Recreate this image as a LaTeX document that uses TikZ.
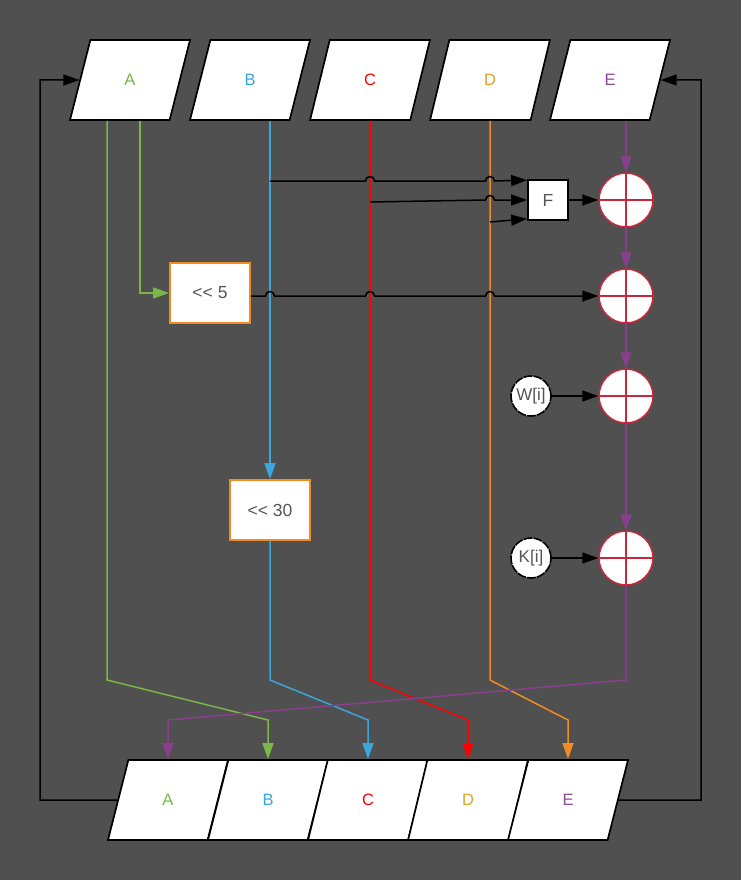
\documentclass[tikz,border=0pt]{standalone}
\usepackage{fontspec}
\setmainfont{Liberation Sans}
\usetikzlibrary{shapes.geometric,arrows.meta}
\definecolor{bg}{HTML}{505050}
\definecolor{regA}{HTML}{7AB648}
\definecolor{regB}{HTML}{3BA6DC}
\definecolor{regC}{HTML}{FF0000}
\definecolor{regD}{HTML}{EF8C22}
\definecolor{regE}{HTML}{883F8C}
\definecolor{textD}{HTML}{DBA526}
\definecolor{textE}{HTML}{8C4A94}
\definecolor{addred}{HTML}{C8283C}
\definecolor{boxtext}{HTML}{555555}

\begin{document}
\begin{tikzpicture}[x=1pt, y=-1pt, line width=1.5pt, >={Triangle[length=16pt,width=11pt]}]
        \fill[bg] (0,0) rectangle (741,880);
        \useasboundingbox (0,0) rectangle (741,880);

        \begin{scope}[every node/.style={trapezium, trapezium left angle=76, trapezium right angle=104,
                      trapezium stretches=true, minimum width=120pt, minimum height=80pt, inner sep=0pt,
                      draw=black, line width=1.7pt, fill=white, font=\fontsize{16.5}{18}\selectfont}]
            \node (tA) [text=regA] at (130, 80) {A};
            \node (tB) [text=regB] at (250, 80) {B};
            \node (tC) [text=regC] at (370, 80) {C};
            \node (tD) [text=textD] at (490, 80) {D};
            \node (tE) [text=textE] at (610, 80) {E};
            \node (bA) [text=regA] at (168, 800) {A};
            \node (bB) [text=regB] at (268, 800) {B};
            \node (bC) [text=regC] at (368, 800) {C};
            \node (bD) [text=textD] at (468, 800) {D};
            \node (bE) [text=textE] at (568, 800) {E};
        \end{scope}

        \begin{scope}[every node/.style={draw=regD, line width=1.7pt, fill=white, minimum width=80pt,
                      minimum height=60pt, text=boxtext, font=\fontsize{17.5}{20}\selectfont}]
            \node (shl5) at (210, 293) {<{}< 5};
            \node (shl30) at (270, 510) {<{}< 30};
        \end{scope}

        \node (F) [draw=black, line width=1.7pt, fill=white, minimum size=40pt, text=boxtext,
                   font=\fontsize{17.5}{20}\selectfont] at (548, 200) {F};

        \begin{scope}[every node/.style={circle, draw=addred, fill=white, line width=1.5pt, minimum size=54pt,
                      inner sep=0pt, path picture={
                          \draw[addred, line width=1.5pt] (path picture bounding box.north) -- (path picture bounding box.south)
                                (path picture bounding box.west) -- (path picture bounding box.east);}}]
            \node (add1) at (626, 200) {};
            \node (add2) at (626, 296) {};
            \node (add3) at (626, 396) {};
            \node (add4) at (626, 558) {};
        \end{scope}

        \begin{scope}[every node/.style={circle, draw=black, dash pattern=on 9pt off 1pt, line width=1.6pt,
                      fill=white, minimum size=40pt, inner sep=0pt, text=boxtext, font=\fontsize{17}{20}\selectfont}]
            \node (W) at (531, 396) {W[i]};
            \node (K) at (531, 558) {K[i]};
        \end{scope}

        % register lines
        \draw[regA, ->] ([xshift=10pt]tA.center |- tA.south) |- (shl5);
        \draw[regA, ->] ([xshift=-23pt]tA.center |- tA.south) -- (107, 680) -- (268, 720) -- (bB.center |- bB.north);
        \draw[regB, ->] ([xshift=20pt]tB.center |- tB.south) -- (shl30);
        \draw[regB, ->] (shl30) -- (270, 680) -- (368, 720) -- (bC.center |- bC.north);
        \draw[regC, ->] (tC.center |- tC.south) -- (370, 680) -- (468, 720) -- (bD.center |- bD.north);
        \draw[regD, ->] (tD.center |- tD.south) -- (490, 680) -- (568, 720) -- (bE.center |- bE.north);
        \draw[regE, ->] ([xshift=16pt]tE.center |- tE.south) -- (add1);
        \draw[regE, ->] (add1) -- (add2);
        \draw[regE, ->] (add2) -- (add3);
        \draw[regE, ->] (add3) -- (add4);
        \draw[regE, ->] (add4) -- (626, 680) -- (168, 720) -- (bA.center |- bA.north);

        % inputs of F and the adders
        \draw[->] (270, 181) -- (365.5, 181) arc[start angle=180, end angle=0, radius=4.5pt]
                  -- (485.5, 181) arc[start angle=180, end angle=0, radius=4.5pt] -- ([yshift=-1pt]F.north west);
        \draw[->] (370, 202) -- (485.5, 200) arc[start angle=180, end angle=0, radius=4.5pt] -- (F.west);
        \draw[->] (490, 222) -- ([yshift=2pt]F.south west);
        \draw[->] (F) -- (add1);
        \draw[->] (shl5.east |- add2) -- (265.5, 296) arc[start angle=180, end angle=0, radius=4.5pt]
                  -- (365.5, 296) arc[start angle=180, end angle=0, radius=4.5pt]
                  -- (485.5, 296) arc[start angle=180, end angle=0, radius=4.5pt] -- (add2);
        \draw[->] (W) -- (add3);
        \draw[->] (K) -- (add4);

        % feedback
        \draw[->] (bA.west) -| (40, 80) -- (tA.west);
        \draw[->] (bE.east) -| (701, 80) -- (tE.east);
    \end{tikzpicture}
\end{document}
